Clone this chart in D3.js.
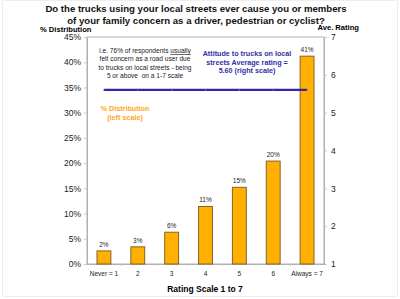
<!DOCTYPE html>
<html>
<head>
<meta charset="utf-8">
<script src="https://cdn.jsdelivr.net/npm/d3@7"></script>
<style>
  body { margin: 0; background: #fff; }
  text { font-family: "Liberation Sans", Arial, sans-serif; }
</style>
</head>
<body>
<div id="root"></div>
<script>
const categories = ['Never = 1', '2', '3', '4', '5', '6', 'Always = 7'];
const distribution = [2.6, 3.4, 6.3, 11.4, 15.2, 20.4, 41.2];
const distLabels = ['2%', '3%', '6%', '11%', '15%', '20%', '41%'];
const averageRating = [5.6, 5.6, 5.6, 5.6, 5.6, 5.6, 5.6];
const leftTicks = [0, 5, 10, 15, 20, 25, 30, 35, 40, 45];
const rightTicks = [1, 2, 3, 4, 5, 6, 7];

const margin = { left: 87, right: 76, top: 37, bottom: 35 };
const width = 400 - margin.left - margin.right;
const height = 299 - margin.top - margin.bottom;

const svg = d3.select('#root').append('svg')
  .attr('width', 400)
  .attr('height', 299);

// faint frame
svg.append('rect')
  .attr('x', 2.5).attr('y', 0.5)
  .attr('width', 395).attr('height', 296)
  .attr('fill', 'none')
  .attr('stroke', '#eeeeee');

const g = svg.append('g')
  .attr('transform', `translate(${margin.left}, ${margin.top})`);

const x = d3.scaleBand()
  .domain(categories)
  .range([0, width])
  .paddingInner(0.59)
  .paddingOuter(0.295);

const xPos = d3.scaleBand()
  .domain(categories)
  .range([0, width]);

const y = d3.scaleLinear().domain([0, 45]).range([height, 0]);
const y2 = d3.scaleLinear().domain([1, 7]).range([height, 0]);

// plot border
g.append('rect')
  .attr('x', 0).attr('y', 0)
  .attr('width', width).attr('height', height)
  .attr('fill', 'none')
  .attr('stroke', '#b0b0b0');

// left axis
const yAxis = d3.axisLeft(y)
  .tickValues(leftTicks)
  .tickSize(3)
  .tickPadding(3)
  .tickFormat(d => d + '%');
const ya = g.append('g').call(yAxis);
ya.select('.domain').attr('stroke', '#b0b0b0');
ya.selectAll('.tick line').attr('stroke', '#c8c8c8');
ya.selectAll('text').attr('font-size', '8.5px').attr('fill', '#222');

// right axis
const yAxis2 = d3.axisRight(y2)
  .tickValues(rightTicks)
  .tickSize(3)
  .tickPadding(4)
  .tickFormat(d3.format('d'));
const yb = g.append('g').attr('transform', `translate(${width}, 0)`).call(yAxis2);
yb.select('.domain').attr('stroke', '#b0b0b0');
yb.selectAll('.tick line').attr('stroke', '#c8c8c8');
yb.selectAll('text').attr('font-size', '8.5px').attr('fill', '#222');

// x axis
const xAxis = d3.axisBottom(x).tickSize(0).tickPadding(7);
const xa = g.append('g').attr('transform', `translate(0, ${height})`).call(xAxis);
xa.select('.domain').attr('stroke', '#b0b0b0');
xa.selectAll('text').attr('font-size', '6.5px').attr('fill', '#222');
g.append('g').selectAll('line').data(categories.slice(1)).enter().append('line')
  .attr('x1', d => xPos(d)).attr('x2', d => xPos(d))
  .attr('y1', height).attr('y2', height + 2)
  .attr('stroke', '#c8c8c8');

// bars
g.append('g').selectAll('rect').data(distribution)
  .enter().append('rect')
    .attr('x', (d, i) => x(categories[i]))
    .attr('y', d => y(d))
    .attr('width', x.bandwidth())
    .attr('height', d => height - y(d))
    .attr('fill', '#ffb000')
    .attr('stroke', '#85642a')
    .attr('stroke-width', 1);

g.append('g').selectAll('text').data(distribution)
  .enter().append('text')
    .attr('x', (d, i) => x(categories[i]) + x.bandwidth() / 2)
    .attr('y', d => y(d) - 4)
    .attr('text-anchor', 'middle')
    .attr('font-size', '6.5px')
    .attr('fill', '#222')
    .text((d, i) => distLabels[i]);

// average rating line
const line = d3.line()
  .x((d, i) => xPos(categories[i]) + xPos.bandwidth() / 2)
  .y(d => y2(d));
g.append('path')
  .datum(averageRating)
  .attr('d', line)
  .attr('fill', 'none')
  .attr('stroke', '#3a22a8')
  .attr('stroke-width', 2.2);
g.append('g').selectAll('line').data(averageRating).enter().append('line')
  .attr('x1', (d, i) => xPos(categories[i]) + xPos.bandwidth() / 2)
  .attr('x2', (d, i) => xPos(categories[i]) + xPos.bandwidth() / 2)
  .attr('y1', d => y2(d) - 1)
  .attr('y2', d => y2(d) + 1)
  .attr('stroke', '#7a6ad0')
  .attr('stroke-width', 0.8);

// title
const title = ['Do the trucks using your local streets ever cause you or members',
  'of your family concern as a driver, pedestrian or cyclist?'];
svg.append('g').selectAll('text').data(title).enter().append('text')
  .attr('x', 196)
  .attr('y', (d, i) => 12 + i * 11.5)
  .attr('text-anchor', 'middle')
  .attr('font-size', '9.6px')
  .attr('font-weight', 'bold')
  .attr('fill', '#111')
  .text(d => d);

// axis titles
svg.append('text')
  .attr('x', 40).attr('y', 31.5)
  .attr('font-size', '7.6px')
  .attr('font-weight', 'bold')
  .text('% Distribution');
svg.append('text')
  .attr('x', 359).attr('y', 30)
  .attr('text-anchor', 'end')
  .attr('font-size', '7.6px')
  .attr('font-weight', 'bold')
  .text('Ave. Rating');
svg.append('text')
  .attr('x', 205).attr('y', 292)
  .attr('text-anchor', 'middle')
  .attr('font-size', '8.5px')
  .attr('font-weight', 'bold')
  .text('Rating Scale 1 to 7');

// annotation
const noteLines = [
  ['i.e. 76% of respondents ', 'usually'],
  ['felt concern as a road user due'],
  ['to trucks on local streets - being'],
  ['5 or above  on a 1-7 scale']
];
noteLines.forEach((parts, i) => {
  const t = g.append('text')
    .attr('x', 145 - margin.left)
    .attr('y', 53 - margin.top + i * 8.4)
    .attr('text-anchor', 'middle')
    .attr('font-size', '6.6px')
    .attr('fill', '#222')
    .attr('xml:space', 'preserve');
  t.append('tspan').text(parts[0]);
  if (parts[1]) t.append('tspan').attr('text-decoration', 'underline').text(parts[1]);
});

const blueNote = ['Attitude to trucks on local', 'streets Average rating =', '5.60 (right scale)'];
g.append('g').selectAll('text').data(blueNote).enter().append('text')
  .attr('x', 247 - margin.left)
  .attr('y', (d, i) => 56 - margin.top + i * 8.6)
  .attr('text-anchor', 'middle')
  .attr('font-size', '7.2px')
  .attr('font-weight', 'bold')
  .attr('fill', '#3030a8')
  .text(d => d);

const orangeNote = ['% Distribution', '(left scale)'];
g.append('g').selectAll('text').data(orangeNote).enter().append('text')
  .attr('x', 125 - margin.left)
  .attr('y', (d, i) => 111 - margin.top + i * 8.6)
  .attr('text-anchor', 'middle')
  .attr('font-size', '7.2px')
  .attr('font-weight', 'bold')
  .attr('fill', '#ffa520')
  .text(d => d);
</script>
</body>
</html>
